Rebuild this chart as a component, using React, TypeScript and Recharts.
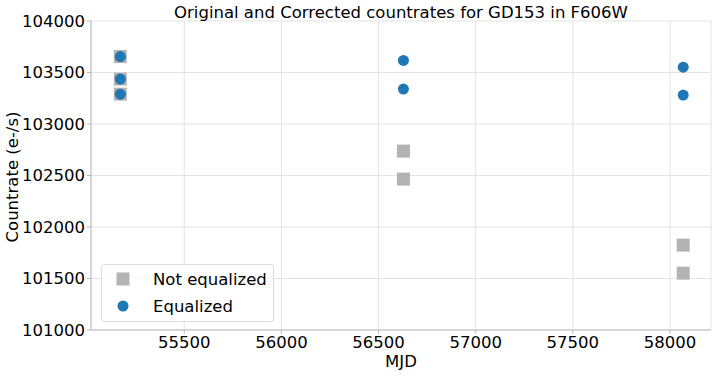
import React from 'react';
import { ScatterChart, Scatter, XAxis, YAxis, CartesianGrid, Label } from 'recharts';

const notEqMJD = [55171, 55171, 55171, 56628, 56628, 58068, 58068];
const notEqRate = [103655, 103436, 103290, 102737, 102465, 101824, 101552];
const eqMJD = [55171, 55171, 55171, 56628, 56628, 58068, 58068];
const eqRate = [103655, 103436, 103290, 103617, 103339, 103552, 103281];
const xTicks = [55500, 56000, 56500, 57000, 57500, 58000];
const yTicks = [101000, 101500, 102000, 102500, 103000, 103500, 104000];

const notEqData = notEqMJD.map((x, i) => ({ x, y: notEqRate[i] }));
const eqData = eqMJD.map((x, i) => ({ x, y: eqRate[i] }));

const FONT = 'DejaVu Sans';
const GRAY = '#b3b3b3';
const BLUE = '#1f77b4';

const SquareShape = (p: any) => (
  <rect x={p.cx - 6.5} y={p.cy - 6.5} width={13} height={13} fill={GRAY} />
);
const CircleShape = (p: any) => <circle cx={p.cx} cy={p.cy} r={5.5} fill={BLUE} />;

const LegendBox = () => (
  <div
    style={{
      position: 'absolute',
      left: 101,
      top: 264,
      width: 173,
      height: 58,
      border: '1px solid #dddddd',
      borderRadius: 3,
      background: 'rgba(255,255,255,0.8)',
      boxSizing: 'border-box',
    }}
  >
    <svg width={173} height={58} style={{ position: 'absolute', left: -1, top: -1 }}>
      <rect x={22 - 6.5} y={15 - 6.5} width={13} height={13} fill={GRAY} />
      <circle cx={22} cy={42} r={5.5} fill={BLUE} />
      <text x={52} y={21} fontFamily={FONT} fontSize={16.5} fill="#000">Not equalized</text>
      <text x={52} y={48} fontFamily={FONT} fontSize={16.5} fill="#000">Equalized</text>
    </svg>
  </div>
);

export default function App() {
  return (
    <div style={{ position: 'absolute', left: 0, top: 0, width: 715, height: 376 }}>
      <ScatterChart width={715} height={376} margin={{ top: 21, right: 4, bottom: 0, left: 0 }}>
        <CartesianGrid stroke="#e3e3e3" strokeWidth={1} />
        <XAxis
          type="number"
          dataKey="x"
          domain={[55020, 58211]}
          ticks={xTicks}
          allowDataOverflow
          stroke="#bbbbbb"
          tickLine={{ stroke: '#bbbbbb' }}
          tickSize={4}
          tick={{ fill: '#000', fontFamily: FONT, fontSize: 16.5 }}
          height={46}
        >
          <Label value="MJD" position="insideBottom" offset={9} style={{ fill: '#000', fontFamily: FONT, fontSize: 16.5 }} />
        </XAxis>
        <YAxis
          type="number"
          dataKey="y"
          domain={[101000, 104000]}
          ticks={yTicks}
          allowDataOverflow
          width={91}
          stroke="#bbbbbb"
          tickLine={{ stroke: '#bbbbbb' }}
          tickSize={4}
          tick={{ fill: '#000', fontFamily: FONT, fontSize: 16.5 }}
        />
        <Scatter name="Not equalized" data={notEqData} shape={SquareShape} isAnimationActive={false} />
        <Scatter name="Equalized" data={eqData} shape={CircleShape} isAnimationActive={false} />
        <text x={401} y={18} textAnchor="middle" fontFamily={FONT} fontSize={16.5} fill="#000">
          Original and Corrected countrates for GD153 in F606W
        </text>
        <text
          x={18}
          y={177}
          textAnchor="middle"
          transform="rotate(-90 18 177)"
          fontFamily={FONT}
          fontSize={16.5}
          fill="#000"
        >
          Countrate (e-/s)
        </text>
      </ScatterChart>
      <LegendBox />
    </div>
  );
}
